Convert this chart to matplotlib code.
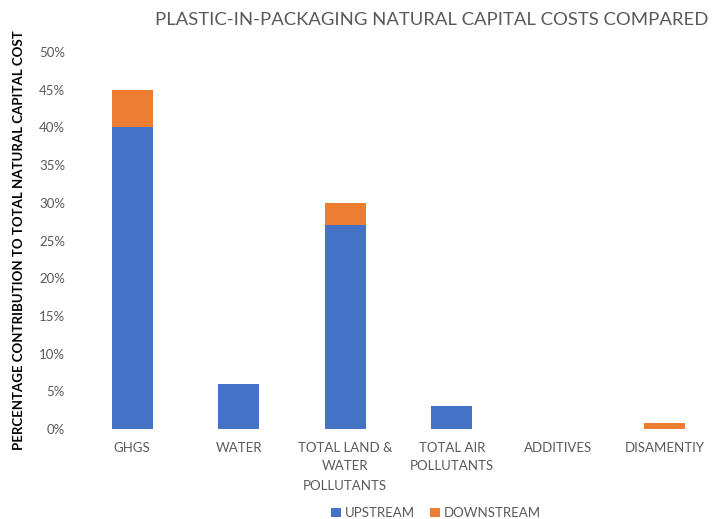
import numpy as np
import matplotlib.pyplot as plt
from matplotlib.ticker import PercentFormatter

categories = ['GHGS', 'WATER', 'TOTAL LAND &\nWATER\nPOLLUTANTS',
              'TOTAL AIR\nPOLLUTANTS', 'ADDITIVES', 'DISAMENTIY']
upstream = [40, 6, 27, 3, 0, 0]
downstream = [5, 0, 3, 0, 0, 0.8]
yticks = [0, 5, 10, 15, 20, 25, 30, 35, 40, 45, 50]

BLUE = '#4472C4'
ORANGE = '#ED7D31'
GREY = '#595959'

plt.rcParams['font.family'] = ['Lato', 'DejaVu Sans']

fig = plt.figure(figsize=(7.16, 5.19), dpi=100)
ax = fig.add_axes([79 / 716, 90 / 519, 639 / 716, 377 / 519])

x = np.arange(len(categories))
ax.bar(x, upstream, width=0.385, color=BLUE, label='UPSTREAM')
ax.bar(x, downstream, width=0.385, bottom=upstream, color=ORANGE, label='DOWNSTREAM')

ax.set_xlim(-0.5, len(categories) - 0.5)
ax.set_ylim(0, 50)
ax.set_yticks(yticks)
ax.yaxis.set_major_formatter(PercentFormatter(decimals=0))
ax.set_xticks(x)
ax.set_xticklabels(categories, fontsize=9.5, color=GREY, linespacing=1.7)
ax.tick_params(axis='y', labelsize=9.5, labelcolor=GREY, length=0, pad=10)
ax.tick_params(axis='x', length=0, pad=9)
for s in ax.spines.values():
    s.set_visible(False)

ax.set_ylabel('PERCENTAGE CONTRIBUTION TO TOTAL NATURAL CAPITAL COST',
              fontsize=9.5, fontweight='bold', color='black')
ax.yaxis.set_label_coords(-54 / 639, 0.5)

fig.text(432 / 716, 1 - 20 / 519, 'PLASTIC-IN-PACKAGING NATURAL CAPITAL COSTS COMPARED',
         ha='center', va='center', fontsize=13.3, color=GREY)

fig.legend(loc='center', bbox_to_anchor=(436 / 716, 1 - 513 / 519), ncol=2,
           frameon=False, fontsize=9.5, handlelength=0.7, handleheight=0.7,
           handletextpad=0.3, columnspacing=1.2, labelcolor=GREY)

fig.savefig('out.png', dpi=100)
